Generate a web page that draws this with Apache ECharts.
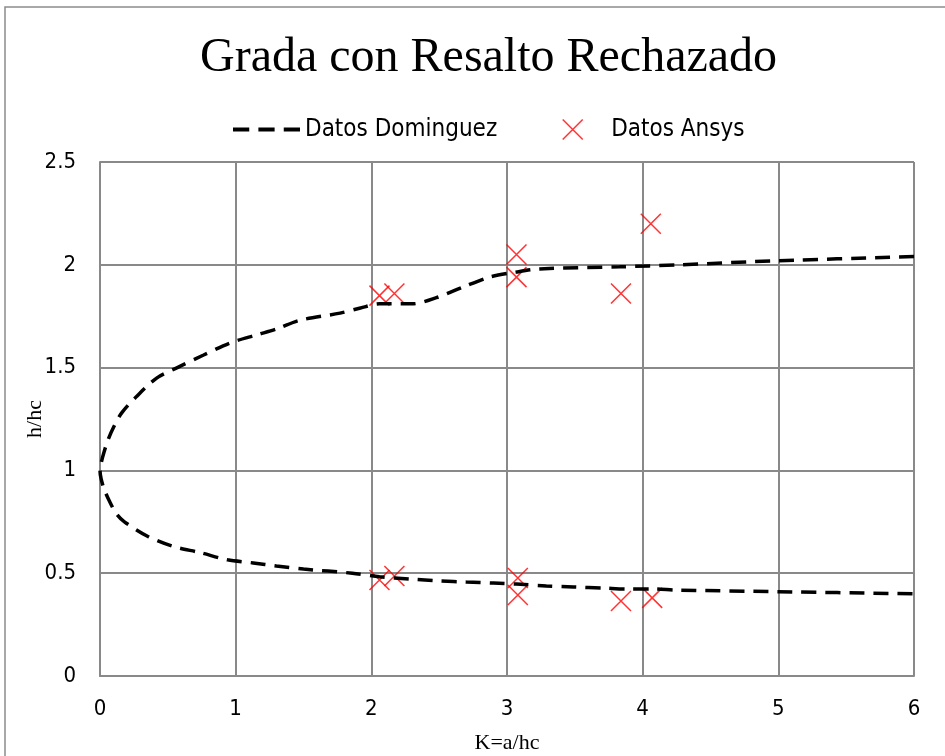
<!DOCTYPE html>
<html>
<head>
<meta charset="utf-8">
<script src="https://cdn.jsdelivr.net/npm/echarts@6/dist/echarts.min.js"></script>
<style>
  html, body { margin: 0; padding: 0; background: #fff; }
  #myChart { width: 945px; height: 756px; }
</style>
</head>
<body>
<div id="myChart"></div>
<script>
  // Datos Dominguez: rama superior (de derecha a izquierda) y luego rama inferior
  var domX = [6.0, 5.0, 4.27, 3.83, 3.24, 3.07, 2.87, 2.67, 2.48, 2.30, 2.06, 1.92, 1.77, 1.47, 1.31, 1.16, 0.96, 0.76, 0.57, 0.42, 0.27, 0.16, 0.1, 0.06, 0.03, 0.01, 0.0,
    0.008, 0.03, 0.07, 0.12, 0.18, 0.35, 0.54, 0.74, 0.94, 1.13, 1.30, 1.50, 1.86, 2.06, 2.28, 2.51, 2.70, 2.90, 3.07, 3.29, 3.49, 3.71, 3.88, 4.08, 4.25, 5.0, 6.0]
  var domY = [2.04, 2.02, 2.00, 1.99, 1.98, 1.965, 1.94, 1.89, 1.84, 1.81, 1.81, 1.79, 1.765, 1.73, 1.69, 1.66, 1.62, 1.56, 1.50, 1.45, 1.36, 1.28, 1.21, 1.15, 1.09, 1.04, 1.0,
    0.96, 0.91, 0.85, 0.79, 0.75, 0.68, 0.63, 0.60, 0.565, 0.55, 0.535, 0.52, 0.50, 0.483, 0.472, 0.462, 0.457, 0.452, 0.447, 0.438, 0.433, 0.428, 0.423, 0.423, 0.418, 0.41, 0.40]
  // Datos Ansys
  var ansysX = [2.06, 2.17, 3.07, 3.07, 4.06, 3.84, 2.06, 2.17, 3.08, 3.08, 3.84, 4.07]
  var ansysY = [1.85, 1.86, 2.05, 1.94, 2.20, 1.86, 0.467, 0.486, 0.477, 0.394, 0.365, 0.38]

  var narrow = "'Liberation Sans Narrow', 'Arial Narrow', 'DejaVu Sans Condensed', sans-serif"
  var serif = "'Liberation Serif', 'Times New Roman', serif"
  var crossPath = 'path://M0,0L10,10M10,0L0,10'
  var dashPath = 'path://M0,0h16v4h-16zM25,0h16v4h-16zM50,0h16v4h-16z'

  var domData = domX.map(function (x, i) { return [x, domY[i]] })
  var ansysData = ansysX.map(function (x, i) { return [x, ansysY[i]] })

  var myChart = echarts.init(document.getElementById('myChart'))
  var option = {
    backgroundColor: '#fff',
    animation: false,
    graphic: [{
      type: 'rect',
      shape: { x: 5, y: 7, width: 960, height: 780 },
      style: { fill: 'none', stroke: '#8c8c8c', lineWidth: 1.5 },
      silent: true
    }],
    title: {
      text: 'Grada con Resalto Rechazado',
      left: 195,
      top: 29,
      textStyle: { fontFamily: serif, fontWeight: 'normal', fontSize: 48, color: '#000' }
    },
    legend: {
      left: 228,
      top: 112,
      itemWidth: 67,
      itemHeight: 20,
      itemGap: 63,
      textStyle: { fontFamily: narrow, fontSize: 24, color: '#000' },
      data: [
        { name: 'Datos Dominguez', icon: dashPath, itemStyle: { color: '#000', borderWidth: 0 } },
        { name: 'Datos Ansys', icon: crossPath, itemStyle: { color: 'none', borderColor: '#ff0000', borderWidth: 1.5 } }
      ]
    },
    grid: { left: 100, right: 31, top: 162, bottom: 80, outerBoundsMode: 'none' },
    xAxis: {
      type: 'value',
      min: 0,
      max: 6,
      interval: 1,
      name: 'K=a/hc',
      nameLocation: 'middle',
      nameGap: 56,
      nameTextStyle: { fontFamily: serif, fontSize: 22, color: '#000' },
      axisLine: { lineStyle: { color: '#898989', width: 2 } },
      axisTick: { show: false },
      axisLabel: { fontFamily: narrow, fontSize: 22, color: '#000', margin: 22 },
      splitLine: { lineStyle: { color: '#898989', width: 2 } }
    },
    yAxis: {
      type: 'value',
      min: 0,
      max: 2.5,
      interval: 0.5,
      name: 'h/hc',
      nameLocation: 'middle',
      nameGap: 54,
      nameMoveOverlap: false,
      nameTextStyle: { fontFamily: serif, fontSize: 22, color: '#000' },
      axisLine: { show: true, lineStyle: { color: '#898989', width: 2 } },
      axisTick: { show: false },
      axisLabel: { fontFamily: narrow, fontSize: 22, color: '#000', margin: 24 },
      splitLine: { lineStyle: { color: '#898989', width: 2 } }
    },
    series: [{
      name: 'Datos Dominguez',
      type: 'line',
      data: domData,
      smooth: 0.3,
      symbol: 'none',
      showSymbol: false,
      lineStyle: { color: '#000', width: 3.5, type: [15, 9] },
      itemStyle: { color: '#000' }
    }, {
      name: 'Datos Ansys',
      type: 'scatter',
      data: ansysData,
      symbol: crossPath,
      symbolSize: 20,
      itemStyle: { color: 'none', borderColor: '#ff0000', borderWidth: 1.5 }
    }]
  }
  myChart.setOption(option)
</script>
</body>
</html>
